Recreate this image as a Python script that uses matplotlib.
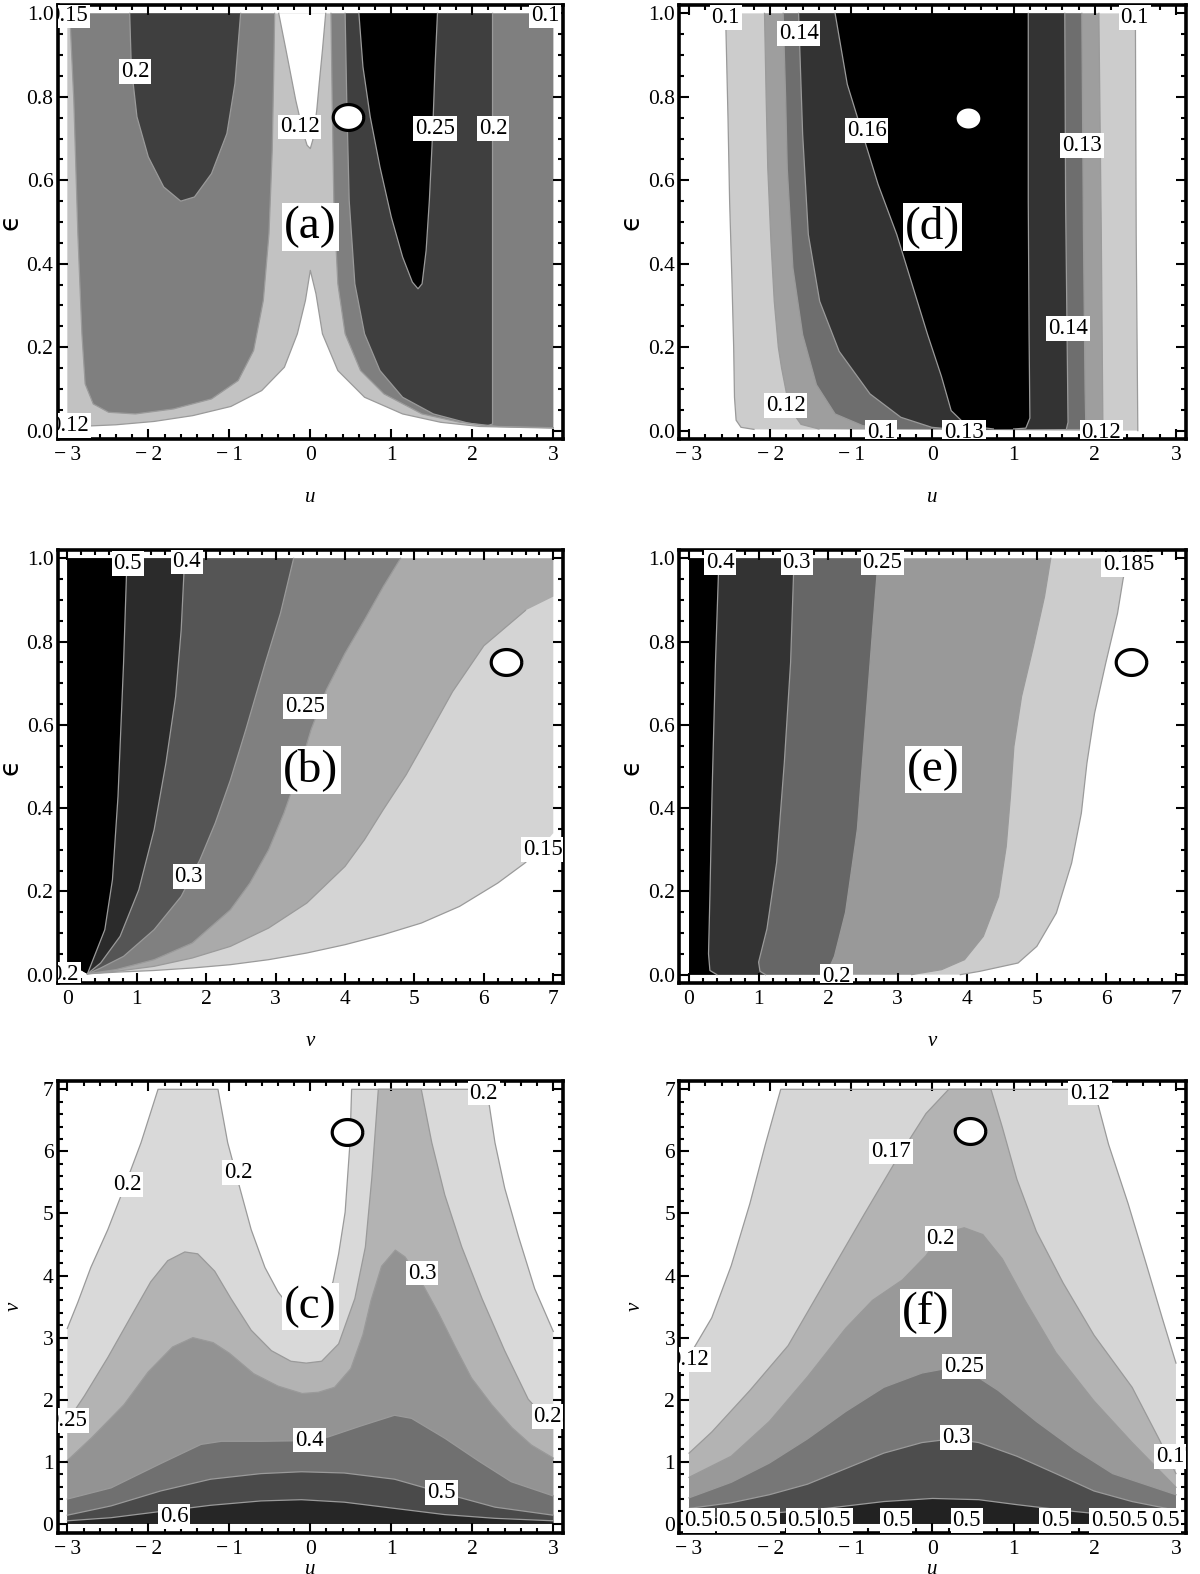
import numpy as np
import matplotlib.pyplot as plt
from matplotlib.ticker import MultipleLocator, FuncFormatter
from matplotlib.path import Path

SERIF = ['Liberation Serif', 'DejaVu Serif']
plt.rcParams['font.family'] = SERIF
LINE = '#9a9a9a'

# ---------------- panel (a): u vs eps ----------------
a_cusp = [(-3.00, 0.010), (-2.87, 0.010), (-2.40, 0.014), (-1.93, 0.022), (-1.45, 0.036), (-0.98, 0.058),
          (-0.60, 0.096), (-0.32, 0.152), (-0.16, 0.232), (-0.06, 0.312), (0.00, 0.384), (0.07, 0.328),
          (0.15, 0.232), (0.34, 0.144), (0.67, 0.080), (1.14, 0.040), (1.61, 0.020), (2.09, 0.010), (3.00, 0.006)]
a_notch = [(-0.39, 1.0), (-0.30, 0.912), (-0.18, 0.792), (-0.085, 0.712), (-0.04, 0.684), (0.0, 0.676),
           (0.03, 0.696), (0.08, 0.768), (0.11, 0.832), (0.15, 0.912), (0.19, 1.0)]
a_med_left = [(-2.97, 1.0), (-2.92, 0.792), (-2.87, 0.472), (-2.82, 0.232), (-2.78, 0.112), (-2.68, 0.064),
              (-2.49, 0.044), (-2.16, 0.040), (-1.69, 0.052), (-1.22, 0.076), (-0.89, 0.120), (-0.70, 0.192),
              (-0.58, 0.312), (-0.51, 0.472), (-0.47, 0.672), (-0.45, 0.872), (-0.44, 1.0)]
a_med_right = [(0.255, 1.0), (0.27, 0.792), (0.29, 0.552), (0.34, 0.352), (0.43, 0.232), (0.62, 0.144),
               (0.91, 0.088), (1.38, 0.040), (1.85, 0.020), (2.32, 0.010), (3.0, 0.007)]
a_dark_left = [(-2.23, 1.0), (-2.21, 0.872), (-2.14, 0.752), (-2.00, 0.656), (-1.81, 0.584), (-1.60, 0.550),
               (-1.43, 0.560), (-1.22, 0.616), (-1.03, 0.712), (-0.93, 0.832), (-0.86, 1.0)]
a_dark_right = [(0.43, 1.0), (0.45, 0.792), (0.48, 0.552), (0.55, 0.352), (0.67, 0.232), (0.86, 0.144),
                (1.14, 0.080), (1.52, 0.040), (1.95, 0.018), (2.18, 0.011), (2.25, 0.016), (2.25, 1.0)]
a_black = [(0.60, 1.0), (0.65, 0.872), (0.74, 0.752), (0.86, 0.632), (1.00, 0.512), (1.14, 0.416), (1.26, 0.356),
           (1.33, 0.340), (1.38, 0.352), (1.43, 0.432), (1.47, 0.552), (1.51, 0.712), (1.54, 0.872), (1.57, 1.0)]
a_labels = [("0.15", -2.99, 0.995), ("0.1", 2.90, 0.995), ("0.12", -2.98, 0.012), ("0.2", -2.16, 0.86),
            ("0.12", -0.13, 0.728), ("0.25", 1.54, 0.724), ("0.2", 2.26, 0.724)]

# ---------------- panel (d): u vs eps ----------------
d_left = {
    0.10: [(-2.55, 1.0), (-2.52, 0.75), (-2.50, 0.55), (-2.47, 0.35), (-2.45, 0.20), (-2.44, 0.08),
           (-2.42, 0.025), (-2.36, 0.008), (-2.20, 0.003)],
    0.12: [(-2.07, 1.0), (-2.05, 0.80), (-2.03, 0.63), (-1.99, 0.45), (-1.95, 0.31), (-1.90, 0.20),
           (-1.86, 0.15), (-1.80, 0.09), (-1.74, 0.048), (-1.62, 0.015), (-1.40, 0.004)],
    0.13: [(-1.84, 1.0), (-1.81, 0.80), (-1.79, 0.63), (-1.72, 0.39), (-1.60, 0.23), (-1.43, 0.11),
           (-1.20, 0.04), (-0.86, 0.012), (-0.48, 0.004)],
    0.14: [(-1.65, 1.0), (-1.60, 0.71), (-1.53, 0.47), (-1.39, 0.31), (-1.15, 0.19), (-0.77, 0.088),
           (-0.39, 0.032), (-0.01, 0.008), (0.32, 0.002)],
    0.16: [(-1.20, 1.0), (-1.05, 0.83), (-0.86, 0.71), (-0.67, 0.59), (-0.44, 0.47), (-0.25, 0.35),
           (-0.06, 0.23), (0.11, 0.13), (0.23, 0.048), (0.42, 0.012), (0.75, 0.004)],
}
d_right = {
    0.10: [(2.53, 0.0), (2.51, 0.47), (2.50, 1.0)],
    0.12: [(2.10, 0.0), (2.08, 0.47), (2.05, 1.0)],
    0.13: [(1.89, 0.004), (1.88, 0.10), (1.86, 0.47), (1.84, 1.0)],
    0.14: [(1.65, 0.004), (1.67, 0.02), (1.66, 0.20), (1.64, 0.55), (1.63, 1.0)],
    0.16: [(1.00, 0.004), (1.15, 0.006), (1.20, 0.03), (1.19, 0.23), (1.18, 0.55), (1.18, 1.0)],
}
d_colors = {0.10: '#cccccc', 0.12: '#9e9e9e', 0.13: '#6e6e6e', 0.14: '#333333', 0.16: '#000000'}
d_labels = [("0.1", -2.55, 0.99), ("0.14", -1.65, 0.952), ("0.16", -0.81, 0.72), ("0.13", 1.84, 0.684),
            ("0.14", 1.67, 0.244), ("0.12", -1.81, 0.06), ("0.1", -0.63, -0.004), ("0.13", 0.39, -0.004),
            ("0.12", 2.08, -0.004), ("0.1", 2.49, 0.99)]

# ---------------- panel (b): v vs eps ----------------
b_curves = {
    0.15: [(7.0, 1.0), (7.0, 0.34), (6.8, 0.30), (6.59, 0.268), (6.20, 0.220), (5.65, 0.164), (5.10, 0.124),
           (4.55, 0.096), (4.00, 0.072), (3.45, 0.052), (2.90, 0.036), (2.35, 0.024), (1.80, 0.016),
           (1.25, 0.010), (0.70, 0.006), (0.29, 0.002)],
    0.20: [(7.0, 1.0), (7.0, 0.908), (6.60, 0.875), (6.00, 0.790), (5.55, 0.680), (5.10, 0.545), (4.88, 0.48),
           (4.55, 0.396), (4.28, 0.324), (4.00, 0.260), (3.45, 0.172), (2.90, 0.112), (2.35, 0.068),
           (1.80, 0.040), (1.25, 0.020), (0.70, 0.008), (0.29, 0.002)],
    0.25: [(4.80, 1.0), (4.55, 0.932), (4.28, 0.852), (4.00, 0.772), (3.73, 0.684), (3.51, 0.588), (3.34, 0.492),
           (3.12, 0.388), (2.90, 0.300), (2.63, 0.220), (2.35, 0.156), (1.80, 0.076), (1.25, 0.036),
           (0.70, 0.012), (0.29, 0.002)],
    0.30: [(3.26, 1.0), (3.07, 0.868), (2.85, 0.748), (2.57, 0.588), (2.35, 0.468), (2.13, 0.364), (1.91, 0.276),
           (1.64, 0.188), (1.25, 0.108), (0.81, 0.044), (0.48, 0.016), (0.29, 0.002)],
    0.40: [(1.69, 1.0), (1.64, 0.828), (1.56, 0.668), (1.42, 0.508), (1.25, 0.348), (1.03, 0.204), (0.76, 0.092),
           (0.48, 0.028), (0.29, 0.002)],
    0.50: [(0.86, 1.0), (0.81, 0.748), (0.73, 0.428), (0.65, 0.228), (0.54, 0.108), (0.37, 0.036), (0.29, 0.002)],
}
b_colors = {0.15: '#d4d4d4', 0.20: '#aaaaaa', 0.25: '#808080', 0.30: '#555555', 0.40: '#2b2b2b', 0.50: '#000000'}
b_labels = [("0.5", 0.87, 0.988), ("0.4", 1.72, 0.992), ("0.25", 3.42, 0.644), ("0.3", 1.75, 0.236),
            ("0.15", 6.85, 0.30), ("0.2", -0.04, 0.0)]

# ---------------- panel (e): v vs eps ----------------
e_curves = {
    0.185: [(6.30, 1.0), (6.24, 0.95), (6.16, 0.868), (5.99, 0.748), (5.83, 0.628), (5.72, 0.508), (5.64, 0.388),
            (5.50, 0.268), (5.28, 0.148), (5.00, 0.068), (4.73, 0.028), (4.18, 0.008), (3.90, 0.0)],
    0.20: [(5.20, 1.0), (5.11, 0.908), (4.95, 0.788), (4.78, 0.668), (4.67, 0.548), (4.62, 0.428), (4.56, 0.308),
           (4.45, 0.188), (4.23, 0.092), (3.96, 0.036), (3.63, 0.012), (3.30, 0.003), (3.20, 0.0)],
    0.25: [(2.72, 1.0), (2.64, 0.83), (2.53, 0.59), (2.42, 0.35), (2.25, 0.15), (2.09, 0.044), (2.00, 0.01),
           (2.10, 0.0)],
    0.30: [(1.51, 1.0), (1.46, 0.75), (1.37, 0.51), (1.26, 0.27), (1.12, 0.11), (1.00, 0.03), (1.02, 0.008),
           (1.10, 0.0)],
    0.40: [(0.43, 1.0), (0.38, 0.75), (0.33, 0.43), (0.30, 0.19), (0.28, 0.05), (0.30, 0.01), (0.40, 0.0)],
}
e_colors = {0.185: '#cccccc', 0.20: '#999999', 0.25: '#666666', 0.30: '#333333', 0.40: '#000000'}
e_labels = [("0.4", 0.45, 0.99), ("0.3", 1.55, 0.99), ("0.25", 2.78, 0.99), ("0.185", 6.32, 0.985),
            ("0.2", 2.12, -0.004)]

# ---------------- panel (c): u vs v ----------------
c_curves = {
    0.20: [(-3.0, 3.15), (-2.87, 3.57), (-2.71, 4.13), (-2.50, 4.74), (-2.30, 5.41), (-2.09, 6.14), (-1.88, 7.0),
           (-1.14, 7.0), (-1.02, 6.14), (-0.87, 5.41), (-0.73, 4.74), (-0.56, 4.13), (-0.40, 3.74), (-0.20, 3.40),
           (0.0, 3.30), (0.15, 3.45), (0.28, 3.90), (0.35, 4.35), (0.43, 5.02), (0.49, 6.14), (0.51, 7.0),
           (2.18, 7.0), (2.28, 6.14), (2.40, 5.41), (2.57, 4.63), (2.77, 3.79), (3.0, 3.10)],
    0.25: [(-3.0, 1.65), (-2.79, 2.06), (-2.50, 2.68), (-2.21, 3.35), (-1.97, 3.90), (-1.76, 4.24), (-1.55, 4.38),
           (-1.39, 4.35), (-1.18, 4.07), (-0.98, 3.63), (-0.73, 3.12), (-0.48, 2.79), (-0.24, 2.62), (-0.05, 2.59),
           (0.14, 2.62), (0.35, 2.90), (0.55, 3.63), (0.68, 4.46), (0.76, 5.58), (0.84, 7.0), (1.37, 7.0),
           (1.50, 6.14), (1.66, 5.30), (1.87, 4.46), (2.12, 3.63), (2.40, 2.79), (2.69, 2.01), (3.0, 1.55)],
    0.30: [(-3.0, 1.02), (-2.69, 1.40), (-2.30, 1.92), (-2.00, 2.45), (-1.70, 2.85), (-1.45, 3.00), (-1.20, 2.92),
           (-1.00, 2.75), (-0.70, 2.42), (-0.40, 2.22), (-0.10, 2.10), (0.10, 2.12), (0.30, 2.20), (0.50, 2.50),
           (0.65, 3.05), (0.75, 3.60), (0.88, 4.15), (1.05, 4.41), (1.17, 4.30), (1.37, 3.90), (1.58, 3.40),
           (1.79, 2.85), (1.99, 2.35), (2.24, 1.92), (2.49, 1.55), (2.73, 1.27), (3.0, 1.06)],
    0.40: [(-3.0, 0.40), (-2.46, 0.58), (-1.85, 0.97), (-1.35, 1.28), (-1.10, 1.33), (-0.61, 1.33), (-0.11, 1.34),
           (0.22, 1.40), (0.63, 1.58), (1.04, 1.75), (1.25, 1.70), (1.66, 1.38), (2.07, 1.02), (2.48, 0.68),
           (3.0, 0.45)],
    0.50: [(-3.0, 0.14), (-2.46, 0.29), (-1.85, 0.53), (-1.23, 0.72), (-0.61, 0.81), (-0.11, 0.84), (0.42, 0.82),
           (1.04, 0.72), (1.66, 0.49), (2.28, 0.27), (3.0, 0.14)],
    0.60: [(-3.0, 0.05), (-2.46, 0.10), (-1.85, 0.20), (-1.23, 0.30), (-0.61, 0.37), (-0.11, 0.39), (0.42, 0.35),
           (1.04, 0.25), (1.66, 0.15), (2.28, 0.09), (3.0, 0.05)],
}
c_colors = {0.20: '#d9d9d9', 0.25: '#b3b3b3', 0.30: '#939393', 0.40: '#707070', 0.50: '#4a4a4a', 0.60: '#262626'}
c_labels = [("0.2", -2.26, 5.47), ("0.2", -0.89, 5.66), ("0.2", 2.14, 6.94), ("0.25", -3.0, 1.67),
            ("0.25", 3.0, 1.73), ("0.3", 1.38, 4.04), ("0.4", -0.01, 1.35), ("0.5", 1.62, 0.51), ("0.6", -1.68, 0.12)]

# ---------------- panel (f): u vs v ----------------
f_curves = {
    0.12: [(-3.0, 2.70), (-2.72, 3.32), (-2.48, 4.16), (-2.25, 5.16), (-2.06, 6.11), (-1.87, 7.0),
           (1.99, 7.0), (2.17, 6.11), (2.41, 5.16), (2.64, 4.16), (2.83, 3.32), (3.0, 2.59)],
    0.17: [(-3.0, 1.14), (-2.72, 1.48), (-2.25, 2.15), (-1.78, 2.87), (-1.31, 3.93), (-0.84, 4.99), (-0.46, 5.83),
           (-0.08, 6.61), (0.20, 7.0), (0.72, 7.0), (0.86, 6.39), (1.04, 5.55), (1.28, 4.71), (1.61, 3.88),
           (1.99, 3.04), (2.46, 2.20), (2.79, 1.37), (3.0, 0.81)],
    0.20: [(-3.0, 0.75), (-2.48, 1.09), (-2.01, 1.65), (-1.54, 2.37), (-1.07, 3.15), (-0.74, 3.60), (-0.37, 3.93),
           (-0.08, 4.32), (0.10, 4.66), (0.39, 4.77), (0.62, 4.66), (0.86, 4.27), (1.14, 3.60), (1.52, 2.76),
           (1.99, 1.98), (2.46, 1.31), (3.0, 0.59)],
    0.25: [(-3.0, 0.42), (-2.48, 0.67), (-2.01, 0.98), (-1.54, 1.37), (-1.07, 1.81), (-0.60, 2.20), (-0.13, 2.43),
           (0.20, 2.51), (0.48, 2.43), (0.81, 2.15), (1.28, 1.65), (1.75, 1.20), (2.22, 0.81), (3.0, 0.47)],
    0.30: [(-3.0, 0.25), (-2.48, 0.34), (-2.01, 0.47), (-1.54, 0.64), (-1.07, 0.89), (-0.60, 1.14), (-0.13, 1.31),
           (0.24, 1.37), (0.57, 1.31), (1.04, 1.09), (1.52, 0.81), (1.99, 0.53), (2.46, 0.36), (3.0, 0.22)],
    0.50: [(-3.0, 0.08), (-2.25, 0.14), (-1.31, 0.25), (-0.60, 0.36), (0.0, 0.41), (0.57, 0.39), (1.04, 0.31),
           (1.75, 0.20), (2.46, 0.11), (3.0, 0.08)],
}
f_colors = {0.12: '#d6d6d6', 0.17: '#b3b3b3', 0.20: '#999999', 0.25: '#777777', 0.30: '#4d4d4d', 0.50: '#222222'}
f_labels = [("0.17", -0.51, 6.0), ("0.2", 0.10, 4.60), ("0.25", 0.39, 2.54), ("0.3", 0.29, 1.39),
            ("0.12", 1.94, 6.94), ("0.12", -3.0, 2.65), ("0.17", 3.0, 1.09)]
f_bottom_u = [-2.88, -2.46, -2.08, -1.61, -1.18, -0.45, 0.42, 1.51, 2.13, 2.48, 2.87]

tags = {'a': (0.0, 0.488), 'd': (0.0, 0.488), 'b': (3.51, 0.492), 'e': (3.51, 0.492),
        'c': (0.0, 3.5), 'f': (-0.08, 3.40)}
points = {'a': (0.46, 0.752), 'b': (6.32, 0.752), 'c': (0.45, 6.32),
          'd': (0.44, 0.75), 'e': (6.35, 0.752), 'f': (0.46, 6.33)}


def fill(ax, pts, color):
    xs, ys = zip(*pts)
    ax.fill(xs, ys, color=color, lw=0, zorder=1)


def line(ax, pts):
    xs, ys = zip(*pts)
    ax.plot(xs, ys, color=LINE, lw=0.9, zorder=2)


def lab(ax, s, x, y, size=16.5):
    ax.text(x, y, s, ha='center', va='center', fontsize=size, zorder=5, clip_on=True,
            bbox=dict(boxstyle='square,pad=0.08', fc='white', ec='none'))


def minus_fmt(x, pos):
    if abs(x) < 1e-9:
        return '0'
    return ('\u2212\u2009%d' % -x) if x < 0 else '%d' % x


t = np.linspace(0, 2 * np.pi, 80)
ELL = Path(np.column_stack([1.18 * np.cos(t), np.sin(t)]))


def setup(ax, xkind, ykind, tag, xlab_y=-0.112):
    if xkind == 'u':
        ax.set_xlim(-3.12, 3.12)
        ax.xaxis.set_major_formatter(FuncFormatter(minus_fmt))
        ax.set_xlabel('u', fontsize=15, style='italic')
    else:
        ax.set_xlim(-0.14, 7.14)
        ax.set_xlabel('v', fontsize=15, style='italic')
    ax.xaxis.set_major_locator(MultipleLocator(1))
    ax.xaxis.set_minor_locator(MultipleLocator(0.2))
    if ykind == 'e':
        ax.set_ylim(-0.021, 1.021)
        ax.yaxis.set_major_locator(MultipleLocator(0.2))
        ax.yaxis.set_minor_locator(MultipleLocator(0.05))
        ax.yaxis.set_major_formatter(FuncFormatter(lambda y, p: '%.1f' % abs(y)))
        ax.set_ylabel('\u03f5', fontsize=19, family=['DejaVu Sans'])
    else:
        ax.set_ylim(-0.14, 7.14)
        ax.yaxis.set_major_locator(MultipleLocator(1))
        ax.yaxis.set_minor_locator(MultipleLocator(0.2))
        ax.set_ylabel('v', fontsize=15, style='italic')
    ax.yaxis.set_label_coords(-0.068, 0.5)
    ax.xaxis.set_label_coords(0.5, xlab_y)
    ax.tick_params(which='both', direction='in', top=True, right=True, width=1.5, colors='black')
    ax.tick_params(which='major', length=7, labelsize=15.5)
    ax.tick_params(which='minor', length=3.5)
    ax.tick_params(axis='x', pad=5)
    ax.tick_params(axis='y', pad=3)
    for sp in ax.spines.values():
        sp.set_linewidth(2.6)
    tx, ty = tags[tag]
    ax.text(tx, ty, '(%s)' % tag, ha='center', va='center', fontsize=34, zorder=5,
            bbox=dict(boxstyle='square,pad=0.05', fc='white', ec='none'))
    px, py = points[tag]
    if tag == 'd':
        ax.plot(px, py, marker=ELL, ms=17, mfc='white', mew=0, zorder=6)
    else:
        ax.plot(px, py, marker=ELL, ms=22, mfc='white', mec='black', mew=2.3, zorder=6)


fig = plt.figure(figsize=(12, 15.74), dpi=100)
W, H = 1200.0, 1574.0


def make_ax(x0, w, top, h):
    return fig.add_axes([x0 / W, 1 - (top + h) / H, w / W, h / H])


cols = [(57.6, 505.4), (679.3, 506.4)]
rows = [(4.6, 434.8), (549.6, 433.8), (1080.6, 452.0)]
row3_xlab = -0.060

# (a)
ax = make_ax(*cols[0], *rows[0])
fill(ax, a_cusp + [(3.0, 1.0), (-3.0, 1.0)], '#c2c2c2')
fill(ax, a_notch, 'white')
fill(ax, a_med_left, '#7f7f7f')
fill(ax, a_med_right + [(3.0, 1.0)], '#7f7f7f')
fill(ax, a_dark_left, '#3f3f3f')
fill(ax, a_dark_right, '#3f3f3f')
fill(ax, a_black, '#000000')
for c in [a_cusp, a_notch, a_med_left, a_med_right, a_dark_left, a_dark_right, a_black]:
    line(ax, c)
for s, x, y in a_labels:
    lab(ax, s, x, y)
setup(ax, 'u', 'e', 'a')

# (d)
ax = make_ax(*cols[1], *rows[0])
for lev in [0.10, 0.12, 0.13, 0.14, 0.16]:
    fill(ax, d_left[lev] + d_right[lev], d_colors[lev])
for lev in [0.10, 0.12, 0.13, 0.14, 0.16]:
    line(ax, d_left[lev])
    line(ax, d_right[lev])
for s, x, y in d_labels:
    lab(ax, s, x, y)
setup(ax, 'u', 'e', 'd')

# (b)
ax = make_ax(*cols[0], *rows[1])
for lev in [0.15, 0.20, 0.25, 0.30, 0.40, 0.50]:
    fill(ax, [(0.0, 1.0)] + b_curves[lev] + [(0.0, 0.03)], b_colors[lev])
for lev in [0.15, 0.20, 0.25, 0.30, 0.40, 0.50]:
    pts = [p for p in b_curves[lev] if p[0] < 7.0]
    line(ax, pts)
for s, x, y in b_labels:
    lab(ax, s, x, y)
setup(ax, 'v', 'e', 'b')

# (e)
ax = make_ax(*cols[1], *rows[1])
for lev in [0.185, 0.20, 0.25, 0.30, 0.40]:
    fill(ax, [(0.0, 1.0)] + e_curves[lev] + [(0.0, 0.0)], e_colors[lev])
for lev in [0.185, 0.20, 0.25, 0.30, 0.40]:
    line(ax, e_curves[lev])
for s, x, y in e_labels:
    lab(ax, s, x, y)
setup(ax, 'v', 'e', 'e')

# (c)
ax = make_ax(*cols[0], *rows[2])
for lev in [0.20, 0.25, 0.30, 0.40, 0.50, 0.60]:
    fill(ax, c_curves[lev] + [(3.0, 0.0), (-3.0, 0.0)], c_colors[lev])
for lev in [0.20, 0.25, 0.30, 0.40, 0.50, 0.60]:
    line(ax, c_curves[lev])
for s, x, y in c_labels:
    lab(ax, s, x, y)
setup(ax, 'u', 'v', 'c', row3_xlab)

# (f)
ax = make_ax(*cols[1], *rows[2])
for lev in [0.12, 0.17, 0.20, 0.25, 0.30, 0.50]:
    fill(ax, f_curves[lev] + [(3.0, 0.0), (-3.0, 0.0)], f_colors[lev])
for lev in [0.12, 0.17, 0.20, 0.25, 0.30, 0.50]:
    line(ax, f_curves[lev])
for s, x, y in f_labels:
    lab(ax, s, x, y)
for x in f_bottom_u:
    lab(ax, '0.5', x, 0.05)
setup(ax, 'u', 'v', 'f', row3_xlab)

fig.savefig('out.png', dpi=100)
